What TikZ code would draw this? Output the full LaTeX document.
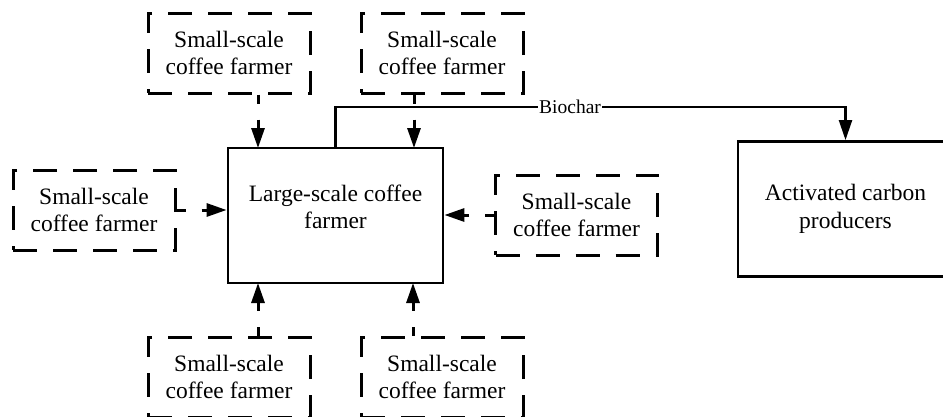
\documentclass[tikz,border=0pt]{standalone}
\usepackage{fontspec}
\setmainfont{Liberation Serif}
\usetikzlibrary{arrows.meta}
\begin{document}
\begin{tikzpicture}[x=1pt,y=-1pt,>={Triangle[length=20pt,width=13pt]},font=\fontsize{23.5}{27.5}\selectfont,
	small/.style={draw,line width=3pt,dash pattern=on 24pt off 16pt,minimum width=162pt,minimum height=80pt,align=center,inner sep=0pt},
	big/.style={draw,line width=2.8pt,minimum width=215pt,minimum height=135pt,align=center,inner sep=0pt},
	feed/.style={->,line width=3pt,dash pattern=on 24pt off 16pt,dash phase=15pt}]
	\clip (0,0) rectangle (943,416);
	\node[big](L) at (335.5,215.5){Large-scale coffee\\farmer\vphantom{g}\\[-10pt]};
	\node[big](A) at (845.5,209){Activated carbon\\producers};
	\node[small](S1) at (229,53){Small-scale\\coffee farmer};
	\node[small](S2) at (442,53){Small-scale\\coffee farmer};
	\node[small](S3) at (94,210){Small-scale\\coffee farmer};
	\node[small](S4) at (576.5,215){Small-scale\\coffee farmer};
	\node[small](S5) at (229,377){Small-scale\\coffee farmer};
	\node[small](S6) at (442,377){Small-scale\\coffee farmer};
	\coordinate(P1) at (258,148);
	\coordinate(P2) at (414,148);
	\coordinate(P3) at (258,283);
	\coordinate(P4) at (413,283);
	\draw[feed] (S1.south -| P1)--(P1);
	\draw[feed] (S2.south -| P2)--(P2);
	\draw[feed] (S5.north -| P3)--(P3);
	\draw[feed] (S6.north -| P4)--(P4);
	\draw[feed] (S3.east)--(S3.east -| L.west);
	\draw[feed] (S4.west)--(S4.west -| L.east);
	\draw[->,line width=2.2pt] (L.north)--++(0,-40) -| node[pos=.23,fill=white,inner sep=1pt,font=\fontsize{19.5}{22}\selectfont]{Biochar} (A.north);
\end{tikzpicture}
\end{document}
